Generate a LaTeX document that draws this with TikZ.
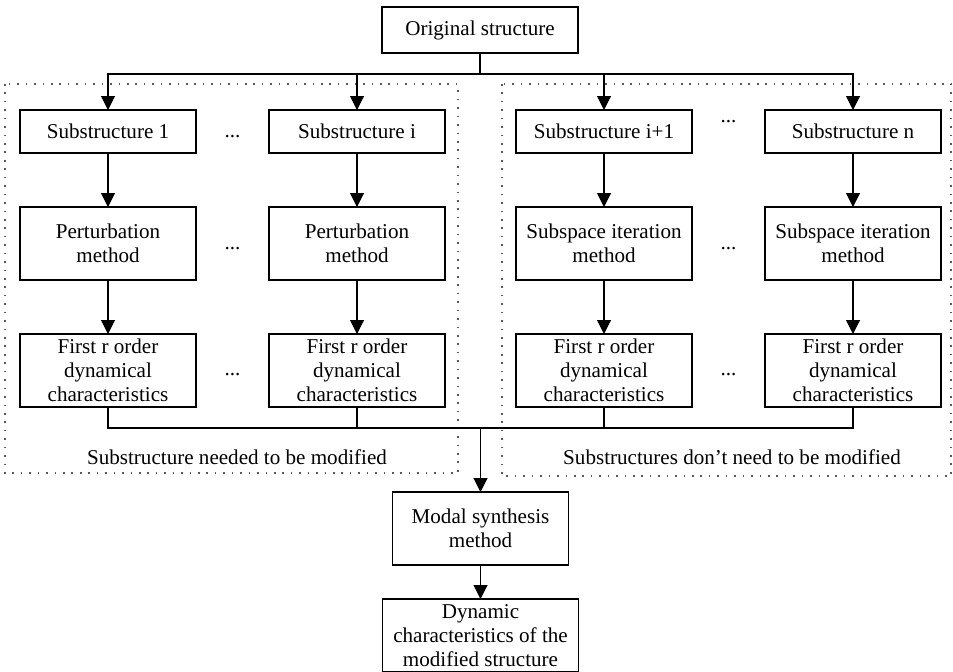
\documentclass[tikz,border=0pt]{standalone}
\usepackage{fontspec}
\setmainfont{Liberation Serif}
\usetikzlibrary{arrows.meta, positioning, calc}

\begin{document}
\begin{tikzpicture}[
    node distance=1.08cm and 1.46cm,
    box/.style={draw, line width=1.1pt, outer sep=0pt, minimum width=3.52cm, minimum height=0.86cm, align=center, font=\fontsize{12}{13.7}\selectfont, inner sep=1pt},
    tall/.style={box, minimum height=1.46cm},
    arr/.style={-{Triangle[length=2.8mm, width=2.8mm]}, line width=0.6pt},
    line/.style={line width=0.6pt},
    grp/.style={gray!70!black, line width=0.9pt, dash pattern=on 0.9pt off 3.9pt},
    dots/.style={font=\fontsize{12}{13.7}\selectfont},
    lbl/.style={font=\fontsize{12}{13.7}\selectfont}
]
\useasboundingbox (0,0) rectangle (19.06,-13.42);

% dotted groups
\draw[grp] (0.1,-1.68) rectangle (9.16,-9.46);
\draw[grp] (10.04,-1.68) rectangle (19.02,-9.52);

\node[box, minimum width=3.92cm, minimum height=0.92cm] (orig) at (9.6,-0.6) {Original structure};

\node[box] (sub1) at (2.16,-2.63) {Substructure 1};
\node[box, right=of sub1] (subi) {Substructure i};
\node[box, right=1.42cm of subi] (subj) {Substructure i+1};
\node[box, right=of subj] (subn) {Substructure n};

\node[tall, below=of sub1] (pert1) {Perturbation\\method};
\node[tall, below=of subi] (perti) {Perturbation\\method};
\node[tall, below=of subj] (subsj) {Subspace iteration\\method};
\node[tall, below=of subn] (subsn) {Subspace iteration\\method};

\node[tall, below=of pert1] (chr1) {First r order\\dynamical\\characteristics};
\node[tall, below=of perti] (chri) {First r order\\dynamical\\characteristics};
\node[tall, below=of subsj] (chrj) {First r order\\dynamical\\characteristics};
\node[tall, below=of subsn] (chrn) {First r order\\dynamical\\characteristics};

\coordinate (midb) at ($(chri.south)!0.5!(chrj.south)$);
\coordinate[below=0.42cm of midb] (bot);

\node[tall, below=1.28cm of bot] (modal) {Modal synthesis\\method};
\node[tall, minimum width=3.92cm, inner sep=0.5pt, below=0.68cm of modal] (dyn) {Dynamic\\characteristics of the\\modified structure};

% dots between columns
\path (sub1) -- node[dots, yshift=-0.1cm] (d1) {...} (subi);
\path (subj) -- node[dots, yshift=0.19cm] (d2) {...} (subn);
\path (pert1) -- node[dots, yshift=-0.1cm] (d3) {...} (perti);
\path (subsj) -- node[dots, yshift=-0.1cm] (d4) {...} (subsn);
\path (chr1) -- node[dots, yshift=-0.08cm] (d5) {...} (chri);
\path (chrj) -- node[dots, yshift=-0.08cm] (d6) {...} (chrn);

\node[lbl] (lblL) at (4.74,-9.14) {Substructure needed to be modified};
\node[lbl] (lblR) at (14.64,-9.14) {Substructures don't need to be modified};

% connectors
\draw[line] (orig.south) -- ++(0,-0.42) coordinate (top);
\foreach \n in {sub1,subi,subj,subn}
    \draw[arr] (top) -| (\n.north);
\foreach \a/\b in {sub1/pert1, subi/perti, subj/subsj, subn/subsn, pert1/chr1, perti/chri, subsj/chrj, subsn/chrn}
    \draw[arr] (\a) -- (\b);
\foreach \n in {chr1,chri,chrj,chrn}
    \draw[line] (\n.south) |- (bot);
\draw[arr] (bot) -- (modal);
\draw[arr] (modal) -- (dyn);
\end{tikzpicture}
\end{document}
